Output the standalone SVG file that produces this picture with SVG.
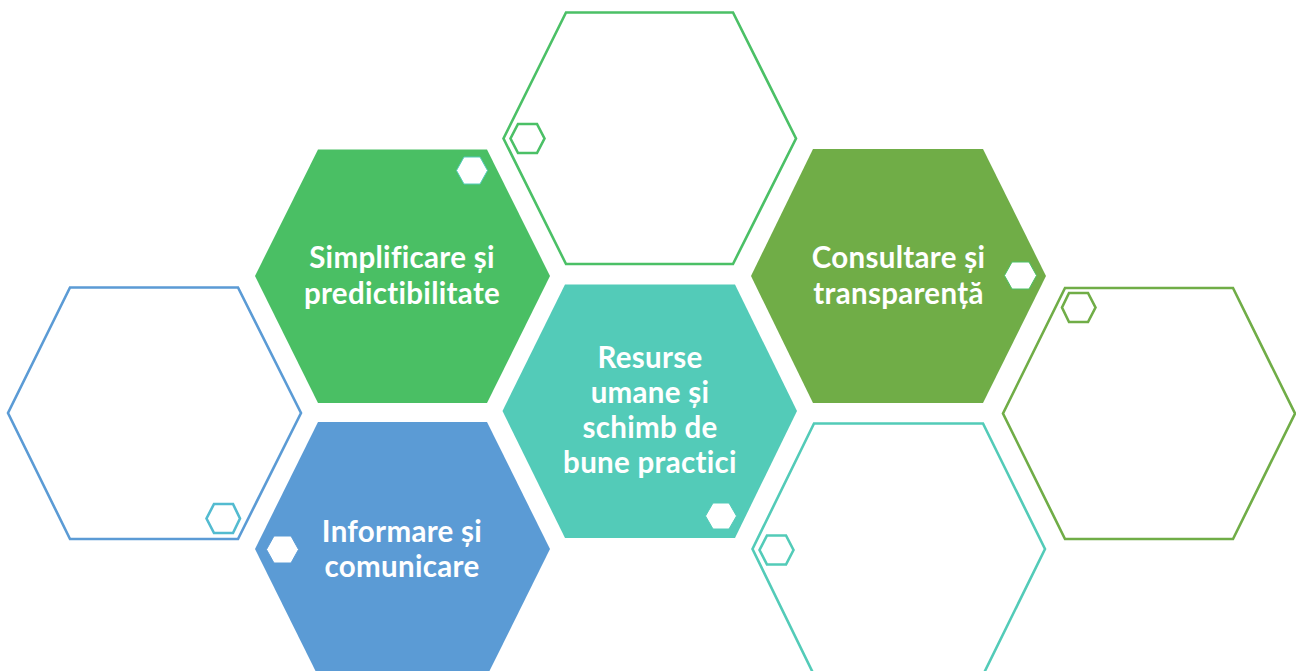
<svg xmlns="http://www.w3.org/2000/svg" width="1296" height="671" viewBox="0 0 1296 671">
<style>
text{font-family:"Lato","Open Sans","Liberation Sans",sans-serif;font-weight:700;font-size:29.5px;letter-spacing:.3px;fill:#fff;text-anchor:middle;font-variant-ligatures:none}
.o{fill:none;stroke-width:2.6;stroke-miterlimit:10}
.m{fill:#fff;stroke-width:1}
.s{fill:none;stroke-width:2.6}
</style>
<rect width="1296" height="671" fill="#fff"/>
<g id="hex-top"><polygon class="o" stroke="#4BC066" points="566,12.5 733,12.5 796,138.5 733,264 566,264 503.5,138.5"/><polygon class="s" stroke="#4BC066" points="518,124 537,124 544.5,138.5 537,153 518,153 510.5,138.5"/></g>
<g id="hex-simplificare"><polygon fill="#4ABF64" points="318,149.5 487,149.5 550,276 487,403 318,403 255,276"/><polygon class="m" stroke="#53CBB8" points="464,157 480,157 487.500,170.500 480,184 464,184 456.500,170.500"/><text x="402" y="268">Simplificare și</text><text x="402" y="304">predictibilitate</text></g>
<g id="hex-consultare"><polygon fill="#70AD47" points="813,149 983,149 1046,276 983,403 813,403 751,276"/><polygon class="m" stroke="#4BC066" points="1012,262 1029,262 1036.500,275.500 1029,289 1012,289 1004.500,275.500"/><text x="898.500" y="268">Consultare și</text><text x="898.500" y="304">transparență</text></g>
<g id="hex-right"><polygon class="o" stroke="#70AD47" points="1065,288 1233,288 1295,413.500 1233,539 1065,539 1003,413.500"/><polygon class="s" stroke="#70AD47" points="1069,293 1088,293 1095.500,307.500 1088,322 1069,322 1062,307.500"/></g>
<g id="hex-left"><polygon class="o" stroke="#5B9BD5" points="70,287.500 238,287.500 301,413 238,539 70,539 8,413"/><polygon class="s" stroke="#53BBD0" points="214,504 233,504 240,518.500 233,533 214,533 206.500,518.500"/></g>
<g id="hex-resurse"><polygon fill="#53CBB8" points="565,284.500 735,284.500 797,411 735,538 565,538 502.500,411"/><polygon class="m" stroke="#53CBB8" points="713,503 729,503 736.500,516 729,529 713,529 705.500,516"/><text x="650" y="368">Resurse</text><text x="650" y="403">umane și</text><text x="650" y="438">schimb de</text><text x="650" y="473">bune practici</text></g>
<g id="hex-informare"><polygon fill="#5B9BD5" points="318,422 487,422 550,549 487,676 318,676 255,549"/><polygon class="m" stroke="#5B9BD5" points="274,536 291,536 298.500,549.500 291,563 274,563 266.500,549.500"/><text x="402" y="542">Informare și</text><text x="402" y="577">comunicare</text></g>
<g id="hex-bottom"><polygon class="o" stroke="#53CBB8" points="814,423.500 983,423.500 1045,549 983,675 814,675 752.500,549"/><polygon class="s" stroke="#53CBB8" points="767,535.500 786,535.500 793.500,550 786,564.500 767,564.500 759.500,550"/></g>
<g id="connectors"></g>
</svg>
